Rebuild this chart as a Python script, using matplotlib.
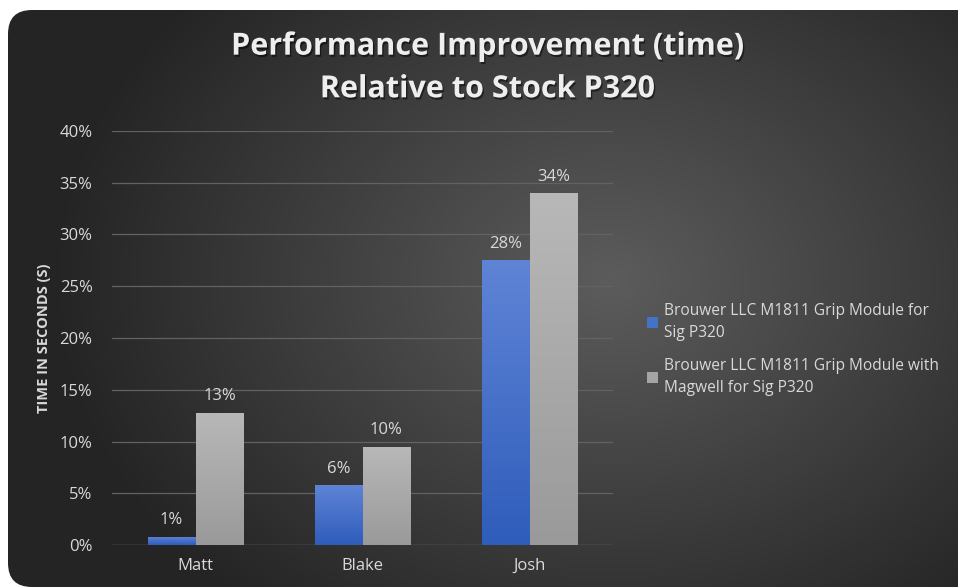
import numpy as np
import matplotlib
matplotlib.use('Agg')
import matplotlib.pyplot as plt
from matplotlib.patches import FancyBboxPatch
import matplotlib.patheffects as pe

# data
people = ['Matt', 'Blake', 'Josh']
grip_only = [0.8, 5.8, 27.5]          # percent
grip_magwell = [12.8, 9.5, 34.0]      # percent
series_names = ['Brouwer LLC M1811 Grip Module for\nSig P320',
                'Brouwer LLC M1811 Grip Module with\nMagwell for Sig P320']
yticks = [0, 5, 10, 15, 20, 25, 30, 35, 40]

W, H = 958, 588
plt.rcParams['font.family'] = ['Open Sans', 'DejaVu Sans']
txt = '#d9d9d9'

fig = plt.figure(figsize=(W / 100, H / 100), dpi=100)
fig.patch.set_facecolor('white')

# dark rounded background with radial gradient
bg = fig.add_axes([0, 0, 1, 1])
bg.set_xlim(0, W)
bg.set_ylim(H, 0)
bg.axis('off')
yy, xx = np.mgrid[0:H, 0:W]
r = np.sqrt(((xx - 610) / 560.0) ** 2 + ((yy - 280) / 430.0) ** 2)
r = np.clip(r, 0, 1)
c0 = np.array([0x5c, 0x5c, 0x5c]) / 255.0
c1 = np.array([0x24, 0x24, 0x24]) / 255.0
img = c0[None, None, :] * (1 - r[..., None]) + c1[None, None, :] * r[..., None]
im = bg.imshow(img, extent=(0, W, H, 0), interpolation='bilinear', zorder=0)
box = FancyBboxPatch((8, 10), W + 20, H - 11, boxstyle='round,pad=0,rounding_size=24',
                     transform=bg.transData, facecolor='none', edgecolor='none')
bg.add_patch(box)
im.set_clip_path(box)

ax = fig.add_axes([112 / W, (H - 545) / H, (613 - 112) / W, (545 - 131) / H])
ax.set_facecolor('none')

x = np.arange(len(people))
bw = 0.287
b1 = ax.bar(x - bw / 2, grip_only, bw, color='#4472c4', zorder=3)
b2 = ax.bar(x + bw / 2, grip_magwell, bw, color='#a5a5a5', zorder=3)

def gradient_fill(bars, top, bottom):
    grad = np.linspace(0, 1, 100)[:, None]
    top = np.array(matplotlib.colors.to_rgb(top))
    bottom = np.array(matplotlib.colors.to_rgb(bottom))
    cols = top[None, None, :] * (1 - grad[..., None]) + bottom[None, None, :] * grad[..., None]
    cols = np.repeat(cols, 2, axis=1)
    for b in bars:
        x0, y0 = b.get_x(), b.get_y()
        w, h = b.get_width(), b.get_height()
        g = ax.imshow(cols, extent=(x0, x0 + w, y0, y0 + h), aspect='auto', zorder=3.5,
                      interpolation='bilinear')
        g.set_clip_path(b)

gradient_fill(b1, '#5f84d6', '#2f5dbb')
gradient_fill(b2, '#b8b8b8', '#9a9a9a')

for bars, vals in ((b1, grip_only), (b2, grip_magwell)):
    for b, v in zip(bars, vals):
        ax.text(b.get_x() + b.get_width() / 2, v + 0.8, '%d%%' % round(v), ha='center',
                va='bottom', color=txt, fontsize=12, zorder=5)

ax.set_xlim(-0.5, 2.5)
ax.set_ylim(0, 40)
ax.set_yticks(yticks)
ax.set_yticklabels(['%d%%' % t for t in yticks])
ax.set_xticks(x)
ax.set_xticklabels(people)
ax.tick_params(axis='both', length=0, colors=txt, labelsize=12)
ax.tick_params(axis='x', pad=9)
ax.tick_params(axis='y', pad=14)
ax.grid(axis='y', color='#626262', linewidth=0.9, zorder=1)
for s in ax.spines.values():
    s.set_visible(False)
ax.axhline(0, color='#6a6a6a', linewidth=0.9, zorder=2)
ax.set_ylabel('TIME IN SECONDS (S)', color=txt, fontsize=10.5, fontweight='bold', labelpad=6)

# legend
leg = ax.legend([b1, b2], series_names, loc='center left', bbox_to_anchor=(1.055, 0.473),
                frameon=False, fontsize=11.2, labelcolor=txt, handlelength=0.7, handleheight=0.7,
                handletextpad=0.4, labelspacing=1.1, borderaxespad=0)
for t in leg.get_texts():
    t.set_linespacing(1.5)

title = fig.text(487 / W, 1 - 68 / H, 'Performance Improvement (time)\nRelative to Stock P320',
                 ha='center', va='center', color='#eeeeee', fontsize=22, fontweight='bold',
                 linespacing=1.55)
title.set_path_effects([pe.withSimplePatchShadow(offset=(1, -1.5), shadow_rgbFace='black', alpha=0.5)])

fig.savefig('out.png', dpi=100)
